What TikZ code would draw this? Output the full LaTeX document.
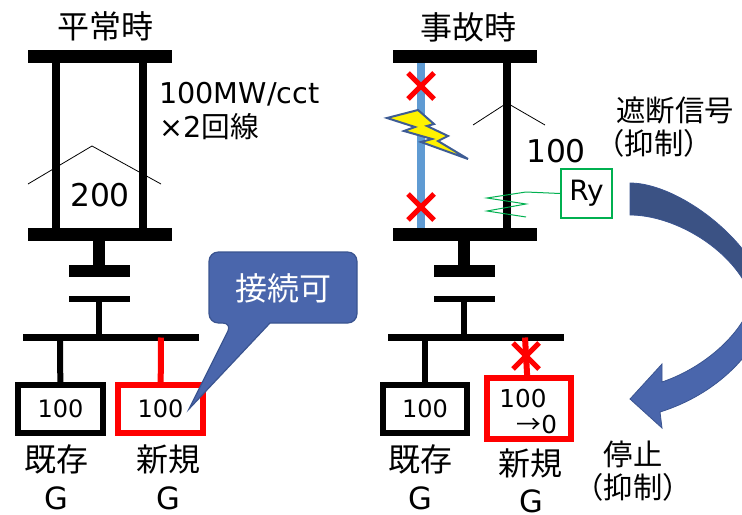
\documentclass[tikz,border=0pt]{standalone}
\usepackage{fontspec}
\setmainfont{DejaVu Sans}
\newfontfamily\jpfont{Noto Sans CJK JP}
\usetikzlibrary{positioning}
\definecolor{callblue}{HTML}{4A66AC}
\definecolor{calledge}{HTML}{3A5490}
\definecolor{arrowtop}{HTML}{3B5284}
\definecolor{linkblue}{HTML}{5F9BD3}
\definecolor{relaygreen}{HTML}{00B050}
\definecolor{boltedge}{HTML}{3E5C94}
\pgfdeclareverticalshading{arrowshade}{100bp}{color(0bp)=(callblue); color(47bp)=(callblue); color(53bp)=(arrowtop); color(100bp)=(arrowtop)}
\tikzset{
  busbig/.style={fill=black,inner sep=0pt,minimum width=108pt,minimum height=9.75pt},
  busmid/.style={fill=black,inner sep=0pt,minimum width=45.75pt,minimum height=9pt},
  busthin/.style={fill=black,inner sep=0pt,minimum width=45.75pt,minimum height=4.5pt},
  buslow/.style={fill=black,inner sep=0pt,minimum width=132pt,minimum height=5.5pt},
  genbox/.style={draw=black,line width=4.5pt,inner sep=0pt,minimum width=63.5pt,minimum height=36pt,font=\fontsize{18}{20}\selectfont},
  newbox/.style={genbox,draw=red},
  jptext/.style={inner sep=0pt,font=\jpfont\fontsize{24}{26}\selectfont},
  jpsmall/.style={inner sep=0pt,font=\jpfont\fontsize{22}{26}\selectfont},
  numtext/.style={inner sep=0pt,font=\fontsize{21.5}{26}\selectfont},
  flowtext/.style={inner sep=0pt,font=\fontsize{23.5}{26}\selectfont},
  gentext/.style={inner sep=0pt,font=\fontsize{23}{26}\selectfont},
  fatline/.style={line width=6pt},
  stemline/.style={line width=4.5pt},
  crossmark/.style={draw=red,line width=3.9pt},
  thinmark/.style={line width=.6pt},
}
\begin{document}
\begin{tikzpicture}[x=.75pt,y=-.75pt]
\clip (0,0) rectangle (742,514);
% left panel
\node[busbig] (topa) at (100,56.5) {};
\node[busbig] (bota) at (100,234.5) {};
\node[busmid] (xfua) at (99,271) {};
\node[busthin] (xfda) at (99,299) {};
\node[buslow] (lowa) at (111,337.5) {};
\node[genbox] (gena) at (60.5,409) {100};
\node[newbox] (newa) at (160.5,409) {100};
\coordinate (la) at (56,100);
\coordinate (lb) at (143,100);
\coordinate (fa) at (60,360);
\coordinate (fb) at (161,360);
\draw[fatline] (la |- topa) -- (la |- bota);
\draw[fatline] (lb |- topa) -- (lb |- bota);
\draw[line width=9pt] (xfua |- bota) -- (xfua);
\draw[stemline] (xfda) -- (xfda |- lowa);
\draw[stemline] (fa |- lowa) -- (gena);
\draw[stemline,red] (fb |- lowa) -- (newa);
\draw[thinmark] (28,184) -- (92,146) -- (161,184);
\node[jptext] (tita) at (105,26) {平常時};
\node[numtext,anchor=west] (ratea) at (159,94) {100MW/cct};
\node[numtext,anchor=west] (cctsa) at (159,127) {×2{\jpfont 回線}};
\node[flowtext] (flowa) at (100,195) {200};
\node[jptext] (kiza) at (56,459) {既存};
\node[gentext] (kizg) at (56,498) {G};
\node[jptext] (shina) at (168,459) {新規};
\node[gentext] (shing) at (168,498) {G};
% callout
\draw[fill=callblue,draw=calledge,line width=.9pt] (232,323) -- (189,409) -- (270,323)
  [rounded corners=7pt] -- (357,323) -- (357,252) -- (209,252) -- (209,323) -- cycle;
\node[jptext,text=white] (okay) at (283,288) {接続可};
% right panel
\node[busbig] (topb) at (464.5,56.5) {};
\node[busbig] (botb) at (464.5,234.5) {};
\node[busmid] (xfub) at (464,271) {};
\node[busthin] (xfdb) at (464,299) {};
\node[buslow] (lowb) at (476,337.5) {};
\node[genbox] (genb) at (425,409) {};
\node[newbox] (newb) at (529,408.5) [minimum height=45.75pt] {};
\coordinate (lc) at (421,100);
\coordinate (ld) at (507,100);
\coordinate (fc) at (425,360);
\coordinate (fd) at (525,360);
\draw[fatline,linkblue] (lc |- topb.south) -- (lc |- botb.north);
\draw[fatline] (ld |- topb) -- (ld |- botb);
\draw[line width=9pt] (xfub |- botb) -- (xfub);
\draw[stemline] (xfdb) -- (xfdb |- lowb);
\draw[stemline] (fc |- lowb) -- (genb);
\draw[stemline,red] (fd |- lowb) -- (newb);
\draw[thinmark] (473,125) -- (507,103) -- (545,125);
\foreach \x/\y in {421/86,421/207,526/356}{
  \draw[crossmark] (\x-13,\y-13) -- (\x+13,\y+13) (\x-13,\y+13) -- (\x+13,\y-13);
}
\draw[fill=yellow,draw=boltedge,line width=1.5pt] (387,118) -- (418,110) -- (434,124) -- (427,126)
  -- (448,136) -- (438,141) -- (468,159) -- (421,142) -- (432,139) -- (404,131) -- (415,127) -- cycle;
\node[draw=relaygreen,line width=1.2pt,inner sep=0pt,minimum width=38.25pt,minimum height=36.75pt,font=\fontsize{21}{22}\selectfont] (relay) at (586.5,193.5) {Ry};
\draw[relaygreen,line width=.75pt] (relay.west) -- (526,192) -- (487,198) -- (526,204) -- (487,211) -- (526,217);
\node[jptext] (titb) at (468,27) {事故時};
\node[flowtext] (flowb) at (556,151) {100};
\node[jpsmall] (trip) at (675,110) {遮断信号};
\node[jpsmall] (tripb) at (654,143) {（抑制）};
\node[inner sep=0pt,font=\fontsize{18}{20}\selectfont] (valb) at (425,409) {100};
\node[inner sep=0pt,font=\fontsize{18.5}{20}\selectfont] (valc) at (523,399) {100};
\node[inner sep=0pt,font=\fontsize{18.5}{20}\selectfont] (vald) at (537,425) {{\jpfont →}0};
\node[jptext] (kizb) at (420,459) {既存};
\node[gentext] (kizh) at (420,498) {G};
\node[jptext] (shinb) at (530,463) {新規};
\node[gentext] (shinh) at (531,501) {G};
\node[jpsmall] (stop) at (633,454) {停止};
\node[jpsmall] (stopb) at (633,487) {（抑制）};
% big curved arrow
\draw[shading=arrowshade,draw=calledge,line width=.6pt]
  (630,183) .. controls (680,183) and (760,245) .. (768,302)
  .. controls (768,335) and (730,390) .. (660,412)
  -- (662,428) -- (630,399) -- (662,364) -- (662,382)
  .. controls (712,365) and (748,325) .. (752,298)
  .. controls (735,250) and (675,215) .. (630,215) -- cycle;
\end{tikzpicture}
\end{document}
